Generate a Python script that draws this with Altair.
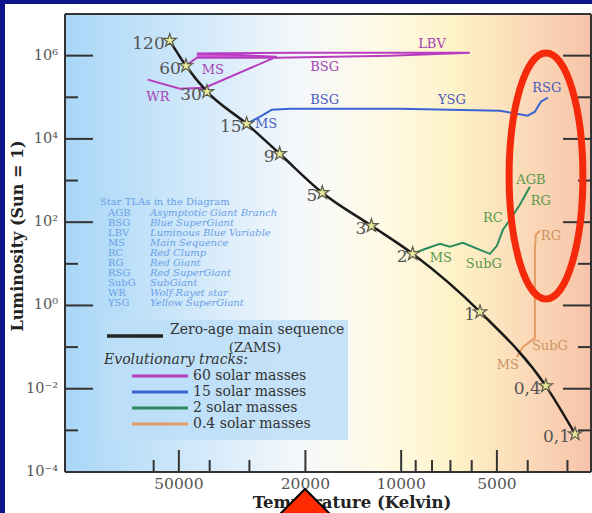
import altair as alt
import pandas as pd

W, H = 526, 458
FONT = "DejaVu Serif"

# ---- zero-age main sequence: stars labelled by mass (solar masses) ----
star_mass = ["120", "60", "30", "15", "9", "5", "3", "2", "1", "0,4", "0,1"]
star_temp = [53400, 47500, 40800, 30600, 24100, 17700, 12400, 9200, 5650, 3510, 2840]
star_lum = [2.3e6, 5.7e5, 1.36e5, 2.3e4, 4400, 510, 82, 17.4, 0.70, 0.0117, 8.2e-4]

# ---- evolutionary tracks (temperature K, luminosity Lsun) ----
t60_temp = [47500, 43900, 24600, 10850, 6080, 20830, 43900, 24600, 41400, 49600, 62600]
t60_lum = [5.75e5, 8.95e5, 8.95e5, 1.0e6, 1.18e6, 1.18e6, 1.12e6, 9.46e5, 1.70e5, 1.61e5, 2.65e5]
# broad early supergiant band of the 60 Msun track (upper / lower edge)
band_temp = [43900, 33000, 24600]
band_top = [1.14e6, 1.06e6, 9.5e5]
band_bot = [8.95e5, 9.0e5, 9.2e5]

t15_temp = [30560, 27400, 25500, 22390, 10090, 4893, 3995, 3798, 3636, 3456]
t15_lum = [2.32e4, 3.61e4, 5.04e4, 5.32e4, 5.32e4, 4.76e4, 3.61e4, 4.51e4, 7.83e4, 9.77e4]

t2_temp = [9190, 8545, 7555, 7030, 6395, 5260, 5000, 4787, 4550, 4235, 3938]
t2_lum = [17.4, 21.7, 30.3, 25.6, 32.0, 17.4, 27.1, 65.7, 114, 262, 710]

t04_temp = [4327, 4142, 3798, 3798, 3771, 3663]
t04_lum = [0.0581, 0.101, 0.166, 21.7, 49.8, 62.1]

track_names = ["60 solar masses", "15 solar masses", "2 solar masses", "0.4 solar masses"]
track_colors = ["#b83cc0", "#3a64d6", "#2a8c5c", "#e49a62"]
label_colors = ["#a444b4", "#4a5cc0", "#5a9a48", "#cc9460"]

# ---- phase labels along the tracks ----
phase_text = ["MS", "BSG", "LBV", "WR",
              "MS", "BSG", "YSG", "RSG",
              "MS", "SubG", "RC", "RG", "AGB",
              "RG", "SubG", "MS"]
phase_track = [0, 0, 0, 0, 1, 1, 1, 1, 2, 2, 2, 2, 2, 3, 3, 3]
phase_temp = [39100, 17400, 8000, 58200,
              26600, 17400, 6927, 3482,
              7500, 5495, 5148, 3636, 3909,
              3381, 3407, 4618]
phase_lum = [4.6e5, 5.44e5, 1.94e6, 1.03e5,
             2.32e4, 8.75e4, 8.75e4, 1.70e5,
             13.9, 10.0, 128, 327, 1045,
             47.1, 0.107, 0.0373]

# ---- axes ----
lum_major = [1e6, 1e4, 1e2, 1, 1e-2]
lum_minor = [1e5, 1e3, 10, 0.1, 1e-3]
lum_label_vals = [1e6, 1e4, 1e2, 1, 1e-2, 1e-4]
lum_label_text = ["10⁶", "10⁴", "10²", "10⁰", "10⁻²", "10⁻⁴"]
temp_major = [50000, 20000, 10000, 5000]
temp_minor = [60000, 40000, 30000, 9000, 8000, 7000, 6000, 4000, 3000]

tla_abbr = ["AGB", "BSG", "LBV", "MS", "RC", "RG", "RSG", "SubG", "WR", "YSG"]
tla_desc = ["Asymptotic Giant Branch", "Blue SuperGiant", "Luminous Blue Variable",
            "Main Sequence", "Red Clump", "Red Giant", "Red SuperGiant",
            "SubGiant", "Wolf-Rayet star", "Yellow SuperGiant"]

xs = alt.Scale(type="log", domain=[2530, 114000], reverse=True)
ys = alt.Scale(type="log", domain=[1e-4, 1e7])


def X(f):
    return alt.X(f, type="quantitative", scale=xs, axis=None)


def Y(f):
    return alt.Y(f, type="quantitative", scale=ys, axis=None)


one = pd.DataFrame({"k": [0]})

# page panel and plot background
panel = alt.Chart(one).mark_rect(fill="white").encode(
    x=alt.value(-60), x2=alt.value(W + 1), y=alt.value(-10), y2=alt.value(H + 41))

grad = alt.LinearGradient(
    gradient="linear", x1=0, x2=1, y1=0, y2=0,
    stops=[alt.GradientStop(offset=0.0, color="#a8d6f7"),
           alt.GradientStop(offset=0.25, color="#d2e9fa"),
           alt.GradientStop(offset=0.45, color="#f5f8fb"),
           alt.GradientStop(offset=0.6, color="#fffae6"),
           alt.GradientStop(offset=0.75, color="#fdf1c6"),
           alt.GradientStop(offset=0.88, color="#fbd9b8"),
           alt.GradientStop(offset=1.0, color="#f7c3aa")])
bg = alt.Chart(one).mark_rect(fill=grad).encode(
    x=alt.value(0), x2=alt.value(W), y=alt.value(0), y2=alt.value(H))

# tick marks (pointing into the plot)
ymaj = pd.DataFrame({"L": lum_major})
ymin = pd.DataFrame({"L": lum_minor})
tick_style = dict(color="#333333", strokeWidth=2)
ticks = [
    alt.Chart(ymaj).mark_rule(**tick_style).encode(y=Y("L"), x=alt.value(0), x2=alt.value(28)),
    alt.Chart(ymin).mark_rule(**tick_style).encode(y=Y("L"), x=alt.value(0), x2=alt.value(13)),
    alt.Chart(ymaj).mark_rule(**tick_style).encode(y=Y("L"), x=alt.value(W - 28), x2=alt.value(W)),
    alt.Chart(ymin).mark_rule(**tick_style).encode(y=Y("L"), x=alt.value(W - 13), x2=alt.value(W)),
    alt.Chart(pd.DataFrame({"T": temp_major})).mark_rule(**tick_style).encode(
        x=X("T"), y=alt.value(H - 22), y2=alt.value(H)),
    alt.Chart(pd.DataFrame({"T": temp_minor})).mark_rule(**tick_style).encode(
        x=X("T"), y=alt.value(H - 12), y2=alt.value(H)),
]

# plot frame
frame_style = dict(color="#333333", strokeWidth=2)
frame = [
    alt.Chart(one).mark_rule(**frame_style).encode(x=alt.value(0), x2=alt.value(W), y=alt.value(0)),
    alt.Chart(one).mark_rule(**frame_style).encode(x=alt.value(0), x2=alt.value(W), y=alt.value(H)),
    alt.Chart(one).mark_rule(**frame_style).encode(y=alt.value(0), y2=alt.value(H), x=alt.value(0)),
    alt.Chart(one).mark_rule(**frame_style).encode(y=alt.value(0), y2=alt.value(H), x=alt.value(W)),
]

ylabels = alt.Chart(pd.DataFrame({"L": lum_label_vals, "t": lum_label_text})).mark_text(
    align="right", baseline="middle", font=FONT, fontSize=14.5, color="#555555").encode(
    y=Y("L"), x=alt.value(-7), text="t:N")
xlabels = alt.Chart(pd.DataFrame({"T": temp_major})).mark_text(
    align="center", baseline="middle", font=FONT, fontSize=15.5, color="#555555").encode(
    x=X("T"), y=alt.value(H + 12), text=alt.Text("T:Q", format="d"))

ytitle = alt.Chart(one).mark_text(
    angle=270, font=FONT, fontSize=16, fontWeight="bold", color="#222222",
    align="center", baseline="middle").encode(
    x=alt.value(-47), y=alt.value(222), text=alt.value("Luminosity (Sun = 1)"))
xtitle = alt.Chart(one).mark_text(
    font=FONT, fontSize=16.5, fontWeight="bold", color="#222222",
    align="center", baseline="middle").encode(
    x=alt.value(287), y=alt.value(H + 31), text=alt.value("Temperature (Kelvin)"))

# TLA table
tla_style = dict(font=FONT, fontSize=10, color="#6a9fe6")
tla_title = alt.Chart(one).mark_text(align="left", baseline="middle", **tla_style).encode(
    x=alt.value(35), y=alt.value(188), text=alt.value("Star TLAs in the Diagram"))
tla_a = alt.Chart(one).mark_text(
    align="left", baseline="top", lineHeight=10, lineBreak="\n", **tla_style).encode(
    x=alt.value(43), y=alt.value(194), text=alt.value("\n".join(tla_abbr)))
tla_d = alt.Chart(one).mark_text(
    align="left", baseline="top", lineHeight=10, fontStyle="italic", lineBreak="\n",
    **tla_style).encode(
    x=alt.value(85), y=alt.value(194), text=alt.value("\n".join(tla_desc)))

# evolutionary tracks, one line layer per track
band = alt.Chart(pd.DataFrame({"T": band_temp, "L": band_top, "L2": band_bot})).mark_area(
    color="#c845cc", opacity=0.85).encode(x=X("T"), y=Y("L"), y2="L2:Q")
track_layers = [band]
for name, col, tt, ll in zip(track_names, track_colors,
                             [t60_temp, t15_temp, t2_temp, t04_temp],
                             [t60_lum, t15_lum, t2_lum, t04_lum]):
    df = pd.DataFrame({"i": list(range(len(tt))), "T": tt, "L": ll})
    track_layers.append(
        alt.Chart(df).mark_line(color=col, strokeWidth=2).encode(
            x=X("T"), y=Y("L"), order="i:Q"))

phase_df = pd.DataFrame({"t": phase_text, "c": [label_colors[k] for k in phase_track],
                         "T": phase_temp, "L": phase_lum})
phases = alt.Chart(phase_df).mark_text(
    font=FONT, fontSize=13, align="center", baseline="middle").encode(
    x=X("T"), y=Y("L"), text="t:N", color=alt.Color("c:N", scale=None))

# ZAMS line and stars
STAR_PATH = ("M0,-1 L0.2245,-0.309 L0.951,-0.309 L0.3633,0.118 L0.588,0.809 L0,0.382 "
             "L-0.588,0.809 L-0.3633,0.118 L-0.951,-0.309 L-0.2245,-0.309 Z")
zams_df = pd.DataFrame({"m": star_mass, "T": star_temp, "L": star_lum})
zams = alt.Chart(zams_df).mark_line(color="#1a1a1a", strokeWidth=2.5, interpolate="monotone").encode(
    x=X("T"), y=Y("L"))
stars = alt.Chart(zams_df).mark_point(
    shape=STAR_PATH, size=196, filled=True, fill="#e8e89a", stroke="#5a5a48",
    strokeWidth=1.2, opacity=1).encode(x=X("T"), y=Y("L"))
star_labels = alt.Chart(zams_df).mark_text(
    align="right", baseline="middle", dx=-5, dy=3, font=FONT, fontSize=17,
    color="#555555").encode(x=X("T"), y=Y("L"), text="m:N")

# legend box
leg_box = alt.Chart(one).mark_rect(fill="#bcdef8", opacity=0.85).encode(
    x=alt.value(35), x2=alt.value(283), y=alt.value(306), y2=alt.value(426))
leg_zams = alt.Chart(one).mark_rule(color="#222222", strokeWidth=3.5).encode(
    x=alt.value(42), x2=alt.value(98), y=alt.value(322))
leg_layers = [leg_zams]
leg_text_style = dict(font=FONT, fontSize=14, color="#333333", baseline="middle")
leg_layers.append(alt.Chart(one).mark_text(align="left", **leg_text_style).encode(
    x=alt.value(105), y=alt.value(316), text=alt.value("Zero-age main sequence")))
leg_layers.append(alt.Chart(one).mark_text(align="center", fontSize=13.5, font=FONT,
                                           color="#333333", baseline="middle").encode(
    x=alt.value(190), y=alt.value(333.5), text=alt.value("(ZAMS)")))
leg_layers.append(alt.Chart(one).mark_text(align="left", fontStyle="italic", **leg_text_style).encode(
    x=alt.value(39), y=alt.value(345.5), text=alt.value("Evolutionary tracks:")))
for k, (name, col) in enumerate(zip(track_names, track_colors)):
    py = 362 + 16 * k
    leg_layers.append(alt.Chart(one).mark_rule(color=col, strokeWidth=3).encode(
        x=alt.value(67), x2=alt.value(123), y=alt.value(py)))
    leg_layers.append(alt.Chart(one).mark_text(align="left", **leg_text_style).encode(
        x=alt.value(128), y=alt.value(py), text=alt.value(name)))

# highlight ring around the red giant region (ellipse drawn with cubic curves)
RING_PATH = ("M0,-1 C0.166,-1 0.3,-0.552 0.3,0 C0.3,0.552 0.166,1 0,1 "
             "C-0.166,1 -0.3,0.552 -0.3,0 C-0.3,-0.552 -0.166,-1 0,-1 Z")
ring = alt.Chart(one).mark_point(
    shape=RING_PATH, size=60516, filled=False, color="#f52a0a", strokeWidth=7,
    opacity=1).encode(x=alt.value(481), y=alt.value(162))
pointer = alt.Chart(one).mark_point(
    shape="M-1,1 L0,0 L1,1", size=3600, filled=True, fill="#ff2a00", stroke="#000000",
    strokeWidth=2, opacity=1).encode(x=alt.value(240), y=alt.value(H + 17))

chart = alt.layer(
    panel, bg, leg_box, *ticks, ylabels, xlabels, ytitle, xtitle,
    tla_title, tla_a, tla_d, *track_layers, phases, zams, stars, star_labels,
    *leg_layers, *frame, ring, pointer
).properties(
    width=W, height=H,
    autosize=alt.AutoSizeParams(type="none"),
    padding={"left": 65, "top": 14, "right": 1, "bottom": 41},
).configure(background="#0c168a").configure_view(strokeWidth=0)

chart.save("out.html", embed_options={"renderer": "svg", "actions": False})
